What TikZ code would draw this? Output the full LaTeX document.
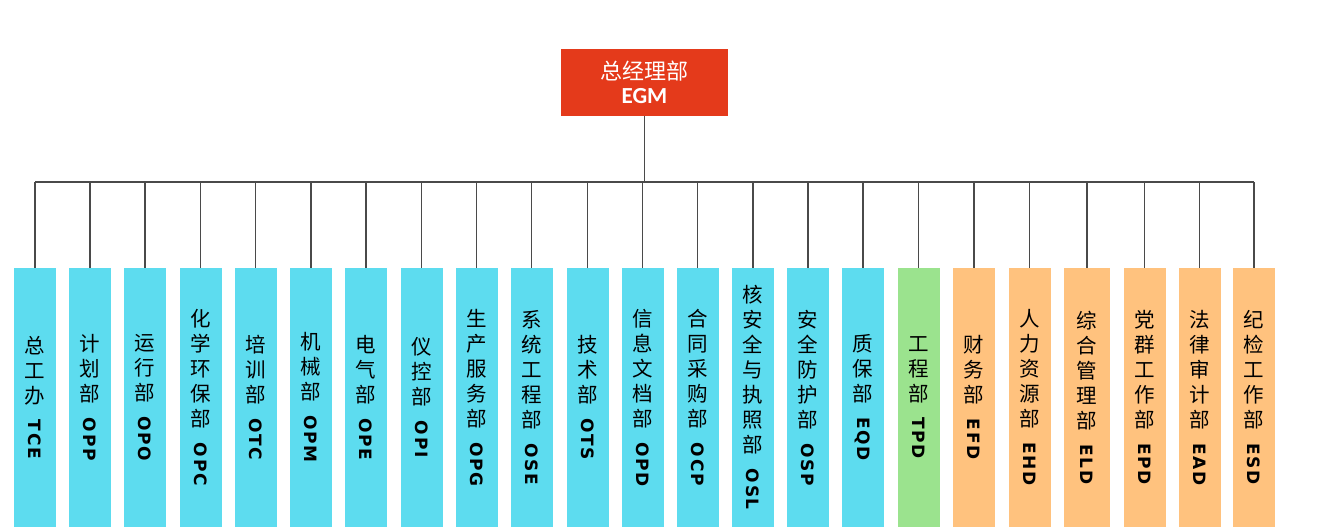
\documentclass[tikz,border=0pt]{standalone}
\usepackage{fontspec}
\newfontfamily\cjk{Noto Sans CJK SC}
\newfontfamily\codefont{DejaVu Sans}[BoldFont={DejaVu Sans Bold}, LetterSpace=10]
\newfontfamily\egmfont{Carlito}
\definecolor{cyanbox}{HTML}{5DDCEF}
\definecolor{greenbox}{HTML}{9BE38E}
\definecolor{orangebox}{HTML}{FFC27E}
\definecolor{redbox}{HTML}{E43A1B}
\definecolor{linecol}{HTML}{4A4A4A}
\newcommand\vlab[2]{#1\\[-9pt]\rotatebox{-90}{\codefont\bfseries\fontsize{17}{17}\selectfont #2}}
\begin{document}
\begin{tikzpicture}[x=1pt,y=-1pt,
  dept/.style={rectangle, minimum width=42pt, minimum height=259pt, inner sep=0pt,
    align=center, anchor=north, text=black, font=\cjk\fontsize{20.5}{25}\selectfont},
  ops/.style={dept, fill=cyanbox},
  eng/.style={dept, fill=greenbox},
  adm/.style={dept, fill=orangebox},
  conn/.style={draw=linecol, line width=1.4pt}]
\useasboundingbox (0,0) rectangle (1324,532);
\node[rectangle, fill=redbox, minimum width=167pt, minimum height=67pt, inner sep=0pt,
  align=center, text=white] (egm) at (644.5,82.5)
  {{\cjk\fontsize{22}{26}\selectfont 总经理部}\\[6pt]{\egmfont\bfseries\fontsize{23}{23}\selectfont EGM}};
\coordinate (bus) at (0,182);
\node[ops] (d1) at (35,268) {\vlab{总\\工\\办}{TCE}};
\node[ops] (d2) at (90,268) {\vlab{计\\划\\部}{OPP}};
\node[ops] (d3) at (145,268) {\vlab{运\\行\\部}{OPO}};
\node[ops] (d4) at (200.5,268) {\vlab{化\\学\\环\\保\\部}{OPC}};
\node[ops] (d5) at (255.5,268) {\vlab{培\\训\\部}{OTC}};
\node[ops] (d6) at (311,268) {\vlab{机\\械\\部}{OPM}};
\node[ops] (d7) at (366,268) {\vlab{电\\气\\部}{OPE}};
\node[ops] (d8) at (421.5,268) {\vlab{仪\\控\\部}{OPI}};
\node[ops] (d9) at (476.5,268) {\vlab{生\\产\\服\\务\\部}{OPG}};
\node[ops] (d10) at (531.5,268) {\vlab{系\\统\\工\\程\\部}{OSE}};
\node[ops] (d11) at (587.5,268) {\vlab{技\\术\\部}{OTS}};
\node[ops] (d12) at (642.5,268) {\vlab{信\\息\\文\\档\\部}{OPD}};
\node[ops] (d13) at (697.5,268) {\vlab{合\\同\\采\\购\\部}{OCP}};
\node[ops] (d14) at (753,268) {\vlab{核\\安\\全\\与\\执\\照\\部}{OSL}};
\node[ops] (d15) at (808,268) {\vlab{安\\全\\防\\护\\部}{OSP}};
\node[ops] (d16) at (863,268) {\vlab{质\\保\\部}{EQD}};
\node[eng] (d17) at (918.5,268) {\vlab{工\\程\\部}{TPD}};
\node[adm] (d18) at (974,268) {\vlab{财\\务\\部}{EFD}};
\node[adm] (d19) at (1029.5,268) {\vlab{人\\力\\资\\源\\部}{EHD}};
\node[adm, minimum width=46pt] (d20) at (1087,268) {\vlab{综\\合\\管\\理\\部}{ELD}};
\node[adm] (d21) at (1144.5,268) {\vlab{党\\群\\工\\作\\部}{EPD}};
\node[adm] (d22) at (1199.5,268) {\vlab{法\\律\\审\\计\\部}{EAD}};
\node[adm] (d23) at (1254,268) {\vlab{纪\\检\\工\\作\\部}{ESD}};
\draw[conn] (egm.south) -- (egm.south |- bus);
\draw[conn] (d1.north |- bus) -- (d23.north |- bus);
\foreach \i in {1,...,23} {\draw[conn] (d\i.north |- bus) -- (d\i.north);}
\end{tikzpicture}
\end{document}
